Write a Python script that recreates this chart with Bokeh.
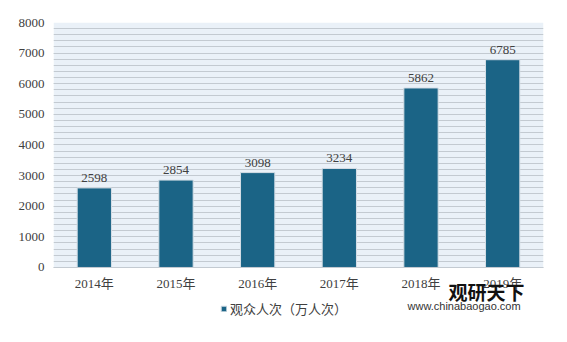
from bokeh.plotting import figure
from bokeh.models import (ColumnDataSource, FixedTicker, Legend, LegendItem,
                          LabelSet, Label, Range1d, BoxAnnotation)
from bokeh.embed import file_html
from bokeh.resources import INLINE

years = ["2014年", "2015年", "2016年", "2017年", "2018年", "2019年"]
viewers = [2598, 2854, 3098, 3234, 5862, 6785]
series_name = "观众人次（万人次）"
y_ticks = [0, 1000, 2000, 3000, 4000, 5000, 6000, 7000, 8000]
y_minor = list(range(0, 8001, 200))
y_max = 8000
y_min = -2450  # empty space under the axis, where legend and logo sit

BAR = "#1b6486"
GRID = "#c3cad1"
SERIF = "Liberation Serif, Noto Sans CJK SC"

src = ColumnDataSource(dict(x=years, y=viewers, label=[str(v) for v in viewers]))

p = figure(x_range=years, y_range=Range1d(y_min, y_max), width=567, height=342,
           output_backend="svg", toolbar_location=None,
           min_border_left=53, min_border_right=24, min_border_top=22,
           min_border_bottom=0)
p.background_fill_color = "white"
p.border_fill_color = "white"
p.outline_line_color = None

# light blue plot area only between 0 and 8000
p.add_layout(BoxAnnotation(bottom=0, top=y_max, fill_color="#eaf1f8",
                           fill_alpha=1, line_color=None, level="image"))

r = p.vbar(x="x", top="y", bottom=0, width=0.42, source=src, fill_color=BAR,
           line_color="#d5dee6", line_width=1)

labels = LabelSet(x="x", y="y", text="label", source=src, text_align="center",
                  text_baseline="bottom", y_offset=6, text_font_size="13px",
                  text_font=SERIF, text_color="#404040")
p.add_layout(labels)

p.yaxis.ticker = FixedTicker(ticks=y_ticks, minor_ticks=y_minor)
p.yaxis.axis_line_color = None
p.yaxis.major_tick_line_color = None
p.yaxis.minor_tick_line_color = None
p.yaxis.major_tick_out = 0
p.yaxis.minor_tick_out = 0
p.yaxis.major_label_standoff = 9
p.yaxis.major_label_text_font = SERIF
p.yaxis.major_label_text_font_size = "13px"
p.yaxis.major_label_text_color = "#404040"

p.xaxis.fixed_location = 0
p.xaxis.axis_line_color = GRID
p.xaxis.major_tick_line_color = None
p.xaxis.major_tick_out = 0
p.xaxis.major_label_standoff = 9
p.xaxis.major_label_text_font = SERIF
p.xaxis.major_label_text_font_size = "13px"
p.xaxis.major_label_text_color = "#404040"

p.xgrid.grid_line_color = None
p.ygrid.grid_line_color = GRID
p.ygrid.minor_grid_line_color = GRID
p.ygrid.grid_line_width = 1

legend = Legend(items=[LegendItem(label=series_name, renderers=[r])],
                orientation="horizontal", location=(167, 24),
                glyph_width=7, glyph_height=7, label_text_font_size="13px",
                label_text_font=SERIF, label_text_color="#404040",
                border_line_color=None, background_fill_alpha=0,
                padding=0, margin=0, label_standoff=3, label_height=14)
p.add_layout(legend)

p.add_layout(Label(x=395, y=51, x_units="screen", y_units="screen",
                   text="观研天下", text_font="Noto Sans CJK SC",
                   text_font_size="19px", text_font_style="bold",
                   text_baseline="middle", text_color="#111111"))
p.add_layout(Label(x=354, y=37, x_units="screen", y_units="screen",
                   text="www.chinabaogao.com", text_font="Liberation Sans",
                   text_font_size="11px", text_baseline="middle",
                   text_color="#333333"))

open("out.html", "w").write(file_html(p, INLINE))
